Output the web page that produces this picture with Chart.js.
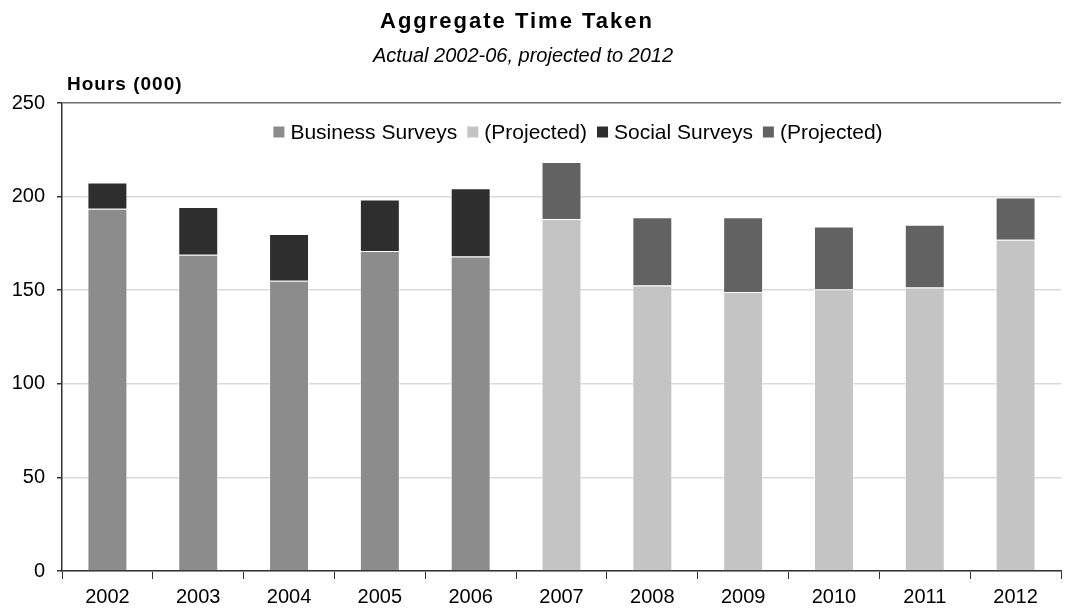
<!DOCTYPE html>
<html>
<head>
<meta charset="utf-8">
<script src="https://cdn.jsdelivr.net/npm/chart.js@4"></script>
<style>
  html, body { margin: 0; padding: 0; background: #fff; }
  #wrap { width: 1072px; height: 610px; }
</style>
</head>
<body>
<div id="wrap"><canvas id="chart" width="1072" height="610"></canvas></div>
<script>
// -----------------------------------------------------------
// DATA (thousand hours)
// -----------------------------------------------------------
const years = ["2002","2003","2004","2005","2006","2007","2008","2009","2010","2011","2012"];
const businessActual = [193.5, 169, 155, 171, 168, null, null, null, null, null, null];
const businessProj   = [null, null, null, null, null, 188, 152.5, 149, 150.5, 151.5, 177];
const socialActual   = [14, 25.5, 25, 27.5, 36.5, null, null, null, null, null, null];
const socialProj     = [null, null, null, null, null, 30.5, 36.5, 40, 33.5, 33.5, 22.5];
const yTicks = [0, 50, 100, 150, 200, 250];

const FONT = "'Liberation Sans', Arial, sans-serif";

// header texts + legend drawn inside the plot
const decor = {
  id: "decor",
  afterDraw(chart) {
    const ctx = chart.ctx;
    ctx.save();
    ctx.fillStyle = "#000";
    ctx.textBaseline = "alphabetic";
    ctx.textAlign = "center";
    ctx.font = "bold 22px " + FONT;
    ctx.letterSpacing = "2px";
    ctx.fillText("Aggregate Time Taken", 517, 28);
    ctx.letterSpacing = "0px";
    ctx.font = "italic 20px " + FONT;
    ctx.fillText("Actual 2002-06, projected to 2012", 523, 62);
    ctx.textAlign = "left";
    ctx.font = "bold 19px " + FONT;
    ctx.letterSpacing = "1px";
    ctx.fillText("Hours (000)", 67, 90);
    ctx.letterSpacing = "0px";

    // legend
    ctx.font = "21px " + FONT;
    ctx.textBaseline = "middle";
    const items = chart.data.datasets.map(d => ({ text: d.label, color: d.backgroundColor }));
    const box = 11, gap = 6, spacing = 10;
    let total = 0;
    items.forEach(it => { it.w = box + gap + ctx.measureText(it.text).width; total += it.w; });
    total += spacing * (items.length - 1);
    let x = 578 - total / 2;
    const y = 132;
    items.forEach(it => {
      ctx.fillStyle = it.color;
      ctx.fillRect(x, y - box / 2, box, box);
      ctx.fillStyle = "#000";
      ctx.fillText(it.text, x + box + gap, y + 1);
      x += it.w + spacing;
    });
    ctx.restore();
  }
};

const common = { stack: "s", borderColor: "rgba(255,255,255,0.6)", borderWidth: 1,
                 barPercentage: 0.44, categoryPercentage: 1 };

new Chart(document.getElementById("chart"), {
  type: "bar",
  data: {
    labels: years,
    datasets: [
      { label: "Business Surveys", data: businessActual, backgroundColor: "#8c8c8c", ...common },
      { label: "(Projected)", data: businessProj, backgroundColor: "#c4c4c4", ...common },
      { label: "Social Surveys", data: socialActual, backgroundColor: "#2e2e2e", ...common },
      { label: "(Projected)", data: socialProj, backgroundColor: "#626262", ...common }
    ]
  },
  options: {
    responsive: false,
    animation: false,
    layout: { padding: { top: 103, left: 12, right: 11, bottom: 0 } },
    plugins: { legend: { display: false }, title: { display: false }, tooltip: { enabled: false } },
    scales: {
      x: {
        stacked: true,
        offset: true,
        afterFit: s => { s.height = 39; },
        grid: { offset: true, drawOnChartArea: false, drawTicks: true, tickLength: 8, color: "#333" },
        border: { color: "#333", width: 1.5 },
        ticks: { color: "#000", font: { family: FONT, size: 20 }, padding: 6, maxRotation: 0 }
      },
      y: {
        stacked: true,
        min: 0,
        max: 250,
        afterBuildTicks: s => { s.ticks = yTicks.map(v => ({ value: v })); },
        afterFit: s => { s.width = 50; },
        grid: {
          color: c => (c.tick && c.tick.value === 250 ? "#707070" : "#d9d9d9"),
          lineWidth: 1.5,
          tickLength: 5,
          tickColor: "#333"
        },
        border: { color: "#333", width: 1.5 },
        ticks: { color: "#000", font: { family: FONT, size: 20 }, padding: 12 }
      }
    }
  },
  plugins: [decor]
});
</script>
</body>
</html>
